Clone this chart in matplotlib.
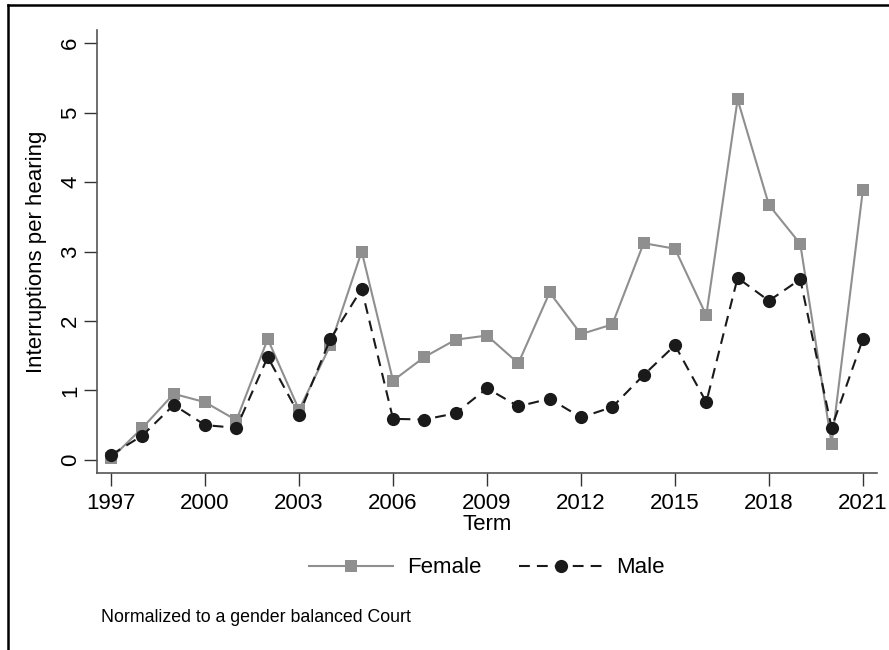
import matplotlib
matplotlib.use("Agg")
import matplotlib.pyplot as plt
from matplotlib.lines import Line2D

plt.rcParams['font.family'] = ['Liberation Sans', 'DejaVu Sans']

terms = list(range(1997, 2022))
female = [0.02, 0.46, 0.95, 0.83, 0.57, 1.74, 0.72, 1.65, 3.00, 1.14, 1.48, 1.73, 1.79,
          1.39, 2.41, 1.81, 1.95, 3.12, 3.04, 2.08, 5.19, 3.67, 3.11, 0.23, 3.89]
male = [0.07, 0.35, 0.79, 0.50, 0.46, 1.48, 0.65, 1.74, 2.46, 0.59, 0.58, 0.67, 1.03,
        0.77, 0.88, 0.61, 0.76, 1.22, 1.65, 0.83, 2.62, 2.29, 2.60, 0.46, 1.74]
xticks = list(range(1997, 2022, 3))
yticks = [0, 1, 2, 3, 4, 5, 6]

fig = plt.figure(figsize=(8.89, 6.5), dpi=100)
ax = fig.add_axes([97 / 889, 1 - 473 / 650, 780 / 889, 443 / 650])

ax.plot(terms, female, color='#8f8f8f', lw=1.5, marker='s', ms=8.6,
        markeredgewidth=0, label='Female')
ax.plot(terms, male, color='#1a1a1a', lw=1.5, ls=(0, (5.2, 3.4)), marker='o',
        ms=9.5, markeredgewidth=0, label='Male')

ax.set_xlim(1996.55, 2021.45)
ax.set_ylim(-0.19, 6.19)
ax.set_xticks(xticks)
ax.set_yticks(yticks)
ax.set_yticklabels([str(v) for v in yticks], rotation=90, va='center')
ax.tick_params(axis='both', labelsize=16, length=9.5, width=1, color='#333333')
ax.tick_params(axis='x', pad=5)
ax.tick_params(axis='y', pad=2)

for side in ['top', 'right']:
    ax.spines[side].set_visible(False)
for side in ['left', 'bottom']:
    ax.spines[side].set_color('#555555')
    ax.spines[side].set_linewidth(1.2)

ax.set_xlabel('Term', fontsize=16, labelpad=0)
ax.set_ylabel('Interruptions per hearing', fontsize=16)
ax.yaxis.set_label_coords(-0.064, 0.5)

ax.legend(loc='center', bbox_to_anchor=(0.5, -0.214), ncol=2, frameon=False,
          fontsize=16, handlelength=3.8, handletextpad=0.6, columnspacing=1.7,
          numpoints=1)

fig.text(101 / 889, 1 - 617 / 650, 'Normalized to a gender balanced Court',
         fontsize=12.8, va='center', ha='left')

# outer frame
fig.add_artist(Line2D([7.5 / 889, 7.5 / 889], [0, 1 - 5 / 650], color='black', lw=1.8))
fig.add_artist(Line2D([7.5 / 889, 1], [1 - 5 / 650, 1 - 5 / 650], color='black', lw=1.8))

fig.savefig('out.png', dpi=100)
